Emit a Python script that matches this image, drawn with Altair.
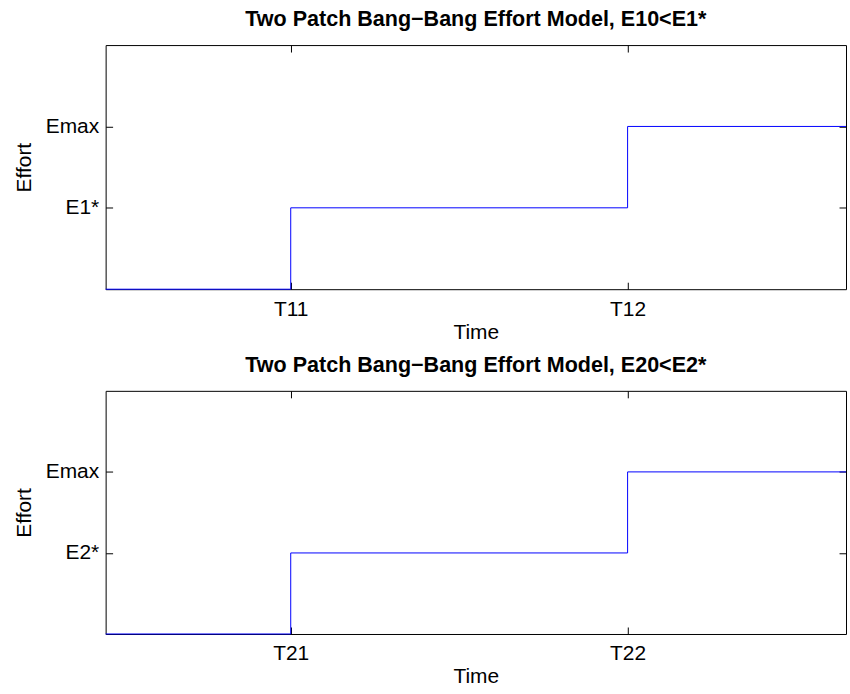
import altair as alt
import pandas as pd

# ---- data ----
time_top = [0.0, 1.0, 2.82, 4.0]
effort_top = [0, 1, 2, 2]
time_bot = [0.0, 1.0, 2.82, 4.0]
effort_bot = [0, 1, 2, 2]

x_ticks_top = [1.0, 2.82]
x_labels_top = ["T11", "T12"]
x_ticks_bot = [1.0, 2.82]
x_labels_bot = ["T21", "T22"]

y_ticks = [1, 2]
y_labels_top = ["E1*", "Emax"]
y_labels_bot = ["E2*", "Emax"]

titles = ["Two Patch Bang−Bang Effort Model, E10<E1*",
          "Two Patch Bang−Bang Effort Model, E20<E2*"]

x_domain = [0, 4]
y_domain = [0, 3]

FONT = "Liberation Sans"
FS = 21
TICK = 7


def label_expr(vals, labels):
    expr = "''"
    for v, l in reversed(list(zip(vals, labels))):
        expr = f"(abs(datum.value - {v}) < 1e-6 ? '{l}' : {expr})"
    return expr


def panel(t, e, xt, xl, yl, title, h):
    df = pd.DataFrame({"Time": t, "Effort": e})
    xs = alt.Scale(domain=x_domain, nice=False, zero=False)
    ys = alt.Scale(domain=y_domain, nice=False, zero=False)
    line = alt.Chart(df).mark_line(
        interpolate="step-after", color="#0000ff", strokeWidth=1
    ).encode(
        x=alt.X("Time:Q", scale=xs, axis=alt.Axis(
            orient="bottom", values=xt, labelExpr=label_expr(xt, xl),
            title="Time", offset=-TICK, tickSize=TICK, domain=False,
            grid=False, labelPadding=9, titlePadding=2)),
        y=alt.Y("Effort:Q", scale=ys, axis=alt.Axis(
            orient="left", values=y_ticks, labelExpr=label_expr(y_ticks, yl),
            title="Effort", offset=-TICK, tickSize=TICK, domain=False,
            grid=False, labelPadding=7, titlePadding=11)),
    )
    frame = alt.Chart(df).mark_line(opacity=0).encode(
        x=alt.X("Time:Q", scale=xs, axis=alt.Axis(
            orient="top", values=xt, labels=False, title=None,
            offset=-TICK, tickSize=TICK, domain=False, grid=False)),
        y=alt.Y("Effort:Q", scale=ys, axis=alt.Axis(
            orient="right", values=y_ticks, labels=False, title=None,
            offset=-TICK, tickSize=TICK, domain=False, grid=False)),
    )
    return alt.layer(line, frame).properties(
        width=743, height=h,
        title=alt.TitleParams(title, anchor="middle", frame="group",
                              baseline="alphabetic", offset=-3),
    )


top = panel(time_top, effort_top, x_ticks_top, x_labels_top, y_labels_top, titles[0], 245)
bot = panel(time_bot, effort_bot, x_ticks_bot, x_labels_bot, y_labels_bot, titles[1], 244)

chart = alt.vconcat(top, bot, spacing=102, bounds="flush").properties(
    padding={"left": 12, "top": 7, "right": 1, "bottom": 5},
    background="white",
).configure_view(
    stroke="black", strokeWidth=1
).configure_axis(
    labelFont=FONT, titleFont=FONT, labelFontSize=FS, titleFontSize=FS,
    titleFontWeight="normal", labelColor="black", titleColor="black",
    tickColor="black", tickWidth=1, minExtent=0,
).configure_title(
    font=FONT, fontSize=21.6, fontWeight="bold", color="black",
)

chart.save("out.html", embed_options={"renderer": "svg", "actions": False})
